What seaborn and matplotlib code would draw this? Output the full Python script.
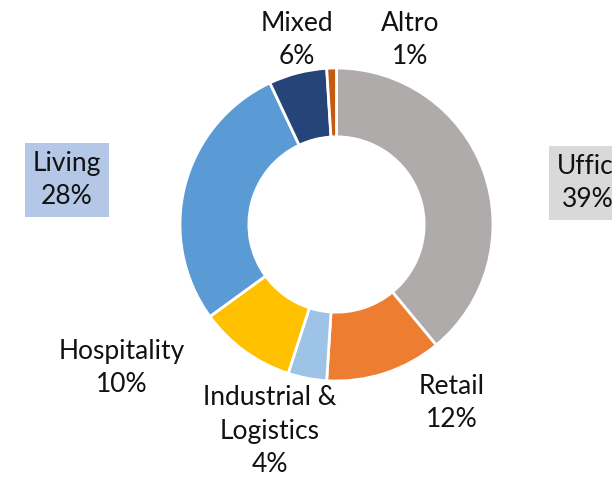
import matplotlib
matplotlib.use("Agg")
import matplotlib.pyplot as plt
import seaborn as sns

categories = ["Uffici", "Retail", "Industrial &\nLogistics", "Hospitality", "Living", "Mixed", "Altro"]
shares = [39, 12, 4, 10, 28, 6, 1]
colors = ["#AFABAB", "#ED7D31", "#9DC3E6", "#FFC000", "#5B9BD5", "#264478", "#C55A11"]

# label centres in pixel coords (x, y from top), plus optional box colour
label_pos = {
    "Uffici": (588, 183, "#D9D9D9"),
    "Retail": (452, 403, None),
    "Industrial &\nLogistics": (270, 431, None),
    "Hospitality": (122, 368, None),
    "Living": (67, 180, "#B4C7E7"),
    "Mixed": (297, 40, None),
    "Altro": (410, 40, None),
}

W, H = 612, 478

sns.set_theme(style="white")
plt.rcParams["font.family"] = ["Lato", "DejaVu Sans"]

fig = plt.figure(figsize=(W / 100, H / 100), dpi=100)
ax = fig.add_axes([0, 0, 1, 1])

cx, cy, r = 336.5, 224.5, 156.5
ax.pie(
    shares,
    colors=colors,
    startangle=90,
    counterclock=False,
    center=(cx, H - cy),
    radius=r,
    wedgeprops=dict(width=r * 0.44, edgecolor="white", linewidth=2.0),
)
ax.set_xlim(0, W)
ax.set_ylim(0, H)
ax.set_aspect("equal")
ax.axis("off")

for cat, val in zip(categories, shares):
    x, y, box = label_pos[cat]
    kw = {}
    if box:
        kw["bbox"] = dict(boxstyle="square,pad=0.3", facecolor=box, edgecolor="none")
    ax.text(x, H - y, f"{cat}\n{val}%", ha="center", va="center",
            fontsize=19, color="#111111", linespacing=1.42, **kw)

fig.savefig("out.png", dpi=100)
